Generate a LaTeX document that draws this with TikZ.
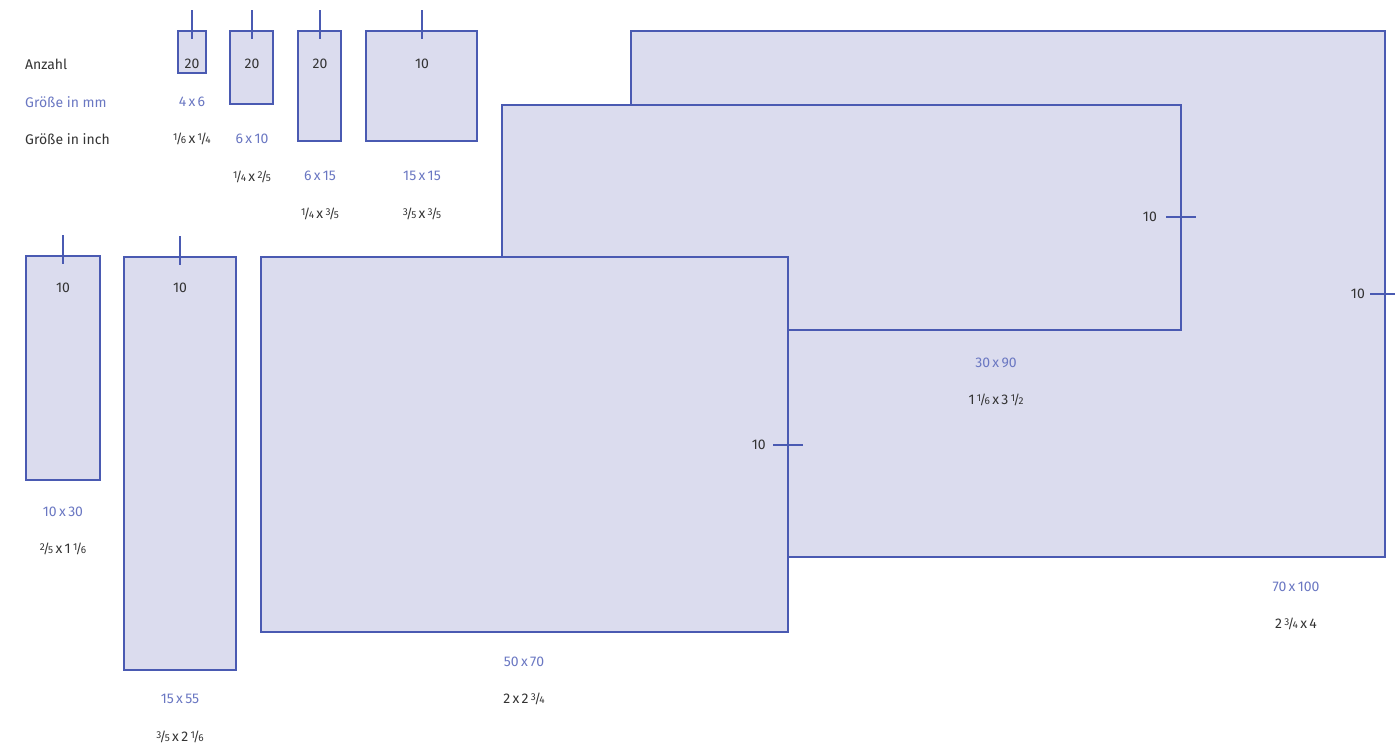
\documentclass[tikz,border=0pt]{standalone}
\usepackage{fontspec}
\setmainfont{Fira Sans}
\definecolor{edge}{HTML}{4A5AB2}
\definecolor{pale}{HTML}{DBDCEE}
\definecolor{bluetxt}{HTML}{6A77C2}
\definecolor{darktxt}{HTML}{333333}
\newcommand\frc[2]{\raisebox{0.42ex}{\fontsize{10}{11}\selectfont #1}\kern-0.12em{\fontsize{13}{14}\selectfont /}\kern-0.12em{\fontsize{10}{11}\selectfont #2}}
\newcommand\xx{\,x\,}
\tikzset{
  box/.style={draw=edge, fill=pale, line width=2.4pt},
  tick/.style={draw=edge, line width=2.4pt},
  lbl/.style={inner sep=0pt, font=\fontsize{14}{16}\selectfont, text=darktxt},
  mm/.style={lbl, text=bluetxt},
  inch/.style={lbl, text=darktxt},
}
\begin{document}
\begin{tikzpicture}[x=1pt,y=-1pt]
\useasboundingbox (0,0) rectangle (1395,744);
% big rectangles (back to front)
\path[box] (631,31) rectangle (1385,557);
\coordinate (t7a) at (1370,294); \coordinate (t7b) at (1400,294);
\draw[tick] (t7a) -- (t7b);
\path[box] (502,105) rectangle (1181,330);
\coordinate (t6a) at (1166,217); \coordinate (t6b) at (1196,217);
\draw[tick] (t6a) -- (t6b);
\path[box] (261,257) rectangle (788,632);
\coordinate (t5a) at (773,445); \coordinate (t5b) at (803,445);
\draw[tick] (t5a) -- (t5b);
% small rectangles
\path[box] (178,31) rectangle (206,73);
\path[box] (230,31) rectangle (273,104);
\path[box] (298,31) rectangle (341,141);
\path[box] (366,31) rectangle (477,141);
\path[box] (26,256) rectangle (100,480);
\path[box] (124,257) rectangle (236,670);
\foreach \n/\x/\ya/\yb in {a/192/10/39, b/252/10/39, c/320/10/39, d/422/10/39, e/63/235/264, f/180/236/265}{
  \coordinate (u\n) at (\x,\ya); \coordinate (v\n) at (\x,\yb);
  \draw[tick] (u\n) -- (v\n);
}
% row labels
\node[lbl, anchor=west] (anz) at (25,64) {Anzahl};
\node[mm, anchor=west] (gmm) at (25,102) {Größe in mm};
\node[inch, anchor=west] (ginch) at (25,139) {Größe in inch};
% counts
\node[lbl] (c1) at (192,64) {20};
\node[lbl] (c2) at (252,64) {20};
\node[lbl] (c3) at (320,64) {20};
\node[lbl] (c4) at (422,64) {10};
\node[lbl] (c5) at (63,288) {10};
\node[lbl] (c6) at (180,288) {10};
\node[lbl, anchor=east] (c7) at (766,445) {10};
\node[lbl, anchor=east] (c8) at (1157,217) {10};
\node[lbl, anchor=east] (c9) at (1365,294) {10};
% sizes
\node[mm] (m1) at (192,102) {4\xx 6};
\node[inch] (i1) at (192,139) {\frc{1}{6}\xx\frc{1}{4}};
\node[mm] (m2) at (252,139) {6\xx 10};
\node[inch] (i2) at (252,177) {\frc{1}{4}\xx\frc{2}{5}};
\node[mm] (m3) at (320,176) {6\xx 15};
\node[inch] (i3) at (320,214) {\frc{1}{4}\xx\frc{3}{5}};
\node[mm] (m4) at (422,176) {15\xx 15};
\node[inch] (i4) at (422,214) {\frc{3}{5}\xx\frc{3}{5}};
\node[mm] (m5) at (63,512) {10\xx 30};
\node[inch] (i5) at (63,549) {\frc{2}{5}\xx 1\,\frc{1}{6}};
\node[mm] (m6) at (180,699) {15\xx 55};
\node[inch] (i6) at (180,737) {\frc{3}{5}\xx 2\,\frc{1}{6}};
\node[mm] (m7) at (524,662) {50\xx 70};
\node[inch] (i7) at (524,699) {2\xx 2\,\frc{3}{4}};
\node[mm] (m8) at (996,363) {30\xx 90};
\node[inch] (i8) at (996,400) {1\,\frc{1}{6}\xx 3\,\frc{1}{2}};
\node[mm] (m9) at (1296,587) {70\xx 100};
\node[inch] (i9) at (1296,624) {2\,\frc{3}{4}\xx 4};
\end{tikzpicture}
\end{document}
